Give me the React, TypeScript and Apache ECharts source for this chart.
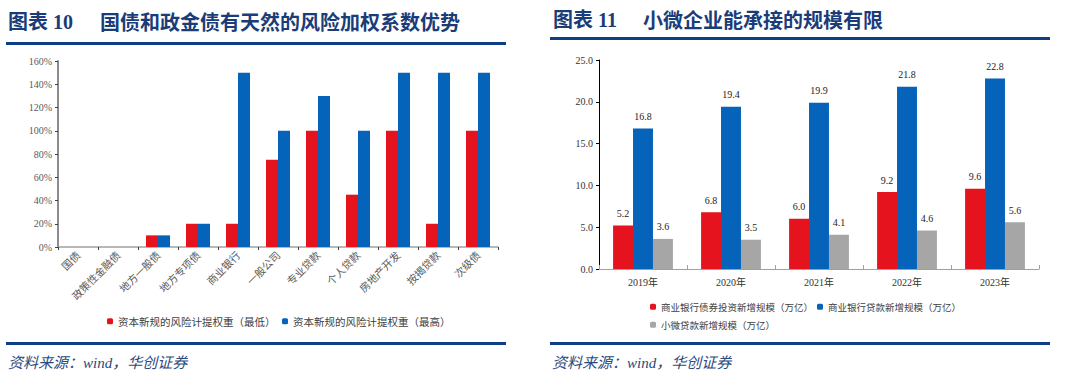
import React, { useEffect, useRef } from "react";
import * as echarts from "echarts";

const leftCategories = ["国债", "政策性金融债", "地方一般债", "地方专项债", "商业银行", "一般公司", "专业贷款", "个人贷款", "房地产开发", "按揭贷款", "次级债"];
const leftLow = [0, 0, 10, 20, 20, 75, 100, 45, 100, 20, 100];
const leftHigh = [0, 0, 10, 20, 150, 100, 130, 100, 150, 150, 150];
const leftTicks = [0, 20, 40, 60, 80, 100, 120, 140, 160];

const rightCategories = ["2019年", "2020年", "2021年", "2022年", "2023年"];
const bondInvest = [5.2, 6.8, 6.0, 9.2, 9.6];
const loanNew = [16.8, 19.4, 19.9, 21.8, 22.8];
const smallLoan = [3.6, 3.5, 4.1, 4.6, 5.6];

const leftSeriesNames = ["资本新规的风险计提权重（最低）", "资本新规的风险计提权重（最高）"];
const rightSeriesNames = ["商业银行债券投资新增规模（万亿）", "商业银行贷款新增规模（万亿）", "小微贷款新增规模（万亿）"];

const RED = "#E5131D";
const BLUE = "#0563BA";
const GREY = "#A6A6A6";
const NAVY = "#1A3C78";
const LINE = "#0E3F84";
const SERIF = "'Liberation Serif', 'Noto Sans CJK SC', serif";
const CJK = "'Noto Sans CJK SC', sans-serif";

export default function App() {
  const ref = useRef<HTMLDivElement>(null);
  useEffect(() => {
    document.body.style.margin = "0";
    const chart = echarts.init(ref.current!, null, { renderer: "svg" });
    const legendText = { color: "#404040", fontSize: 10.5, fontFamily: CJK };
    const legendTextR = { color: "#404040", fontSize: 9.5, fontFamily: CJK };
    chart.setOption({
      animation: false,
      backgroundColor: "#ffffff",
      grid: [
        { left: 58, top: 61, right: 1080 - 498, bottom: 379 - 247 },
        { left: 599, top: 60, right: 1080 - 1039, bottom: 379 - 269 },
      ],
      xAxis: [
        {
          type: "category",
          gridIndex: 0,
          data: leftCategories,
          axisLine: { lineStyle: { color: "#A0A0A0", width: 1.5 } },
          axisTick: { show: true, length: 3, lineStyle: { color: "#404040" } },
          axisLabel: { rotate: 45, fontSize: 10.5, color: "#595959", fontFamily: CJK, margin: 6, interval: 0 },
        },
        {
          type: "category",
          gridIndex: 1,
          data: rightCategories,
          axisLine: { lineStyle: { color: "#A0A0A0", width: 1 } },
          axisTick: { show: true, length: 4, inside: true, lineStyle: { color: "#A0A0A0" } },
          axisLabel: { fontSize: 10, color: "#333333", fontFamily: SERIF, margin: 8 },
        },
      ],
      yAxis: [
        {
          type: "value",
          gridIndex: 0,
          min: leftTicks[0],
          max: leftTicks[leftTicks.length - 1],
          interval: 20,
          splitLine: { show: false },
          axisLine: { show: true, lineStyle: { color: "#8C8C8C", width: 2 } },
          axisTick: { show: true, length: 3, lineStyle: { color: "#404040" } },
          axisLabel: { formatter: (v: number) => v + "%", fontSize: 10, color: "#595959", fontFamily: SERIF, margin: 6 },
        },
        {
          type: "value",
          gridIndex: 1,
          min: 0,
          max: 25,
          interval: 5,
          splitLine: { show: false },
          axisLine: { show: true, lineStyle: { color: "#000000", width: 1 } },
          axisTick: { show: true, length: 3, lineStyle: { color: "#000000" } },
          axisLabel: { formatter: (v: number) => v.toFixed(1), fontSize: 10, color: "#333333", fontFamily: SERIF, margin: 6 },
        },
      ],
      legend: [
        { left: 102, top: 311, itemWidth: 6, itemHeight: 6, data: [leftSeriesNames[0]], textStyle: legendText, itemGap: 0 },
        { left: 277, top: 311, itemWidth: 6, itemHeight: 6, data: [leftSeriesNames[1]], textStyle: legendText, itemGap: 0 },
        { left: 645, top: 297, itemWidth: 6, itemHeight: 6, data: [rightSeriesNames[0]], textStyle: legendTextR },
        { left: 812, top: 297, itemWidth: 6, itemHeight: 6, data: [rightSeriesNames[1]], textStyle: legendTextR },
        { left: 645, top: 315, itemWidth: 6, itemHeight: 6, data: [rightSeriesNames[2]], textStyle: legendTextR },
      ],
      series: [
        { name: leftSeriesNames[0], type: "bar", xAxisIndex: 0, yAxisIndex: 0, data: leftLow, itemStyle: { color: RED }, barGap: "0%", barCategoryGap: "40%" },
        { name: leftSeriesNames[1], type: "bar", xAxisIndex: 0, yAxisIndex: 0, data: leftHigh, itemStyle: { color: BLUE }, barGap: "0%", barCategoryGap: "40%" },
        ...[bondInvest, loanNew, smallLoan].map((d, i) => ({
          name: rightSeriesNames[i],
          type: "bar",
          xAxisIndex: 1,
          yAxisIndex: 1,
          data: d,
          itemStyle: { color: [RED, BLUE, GREY][i] },
          barGap: "0%",
          barCategoryGap: "32%",
          label: {
            show: true,
            position: "top",
            distance: 7,
            formatter: (p: any) => Number(p.value).toFixed(1),
            fontSize: 10,
            color: "#222222",
            fontFamily: SERIF,
          },
        })),
      ],
      graphic: [
        { type: "text", left: 8, top: 12, style: { text: "图表 10", fontSize: 20, fontWeight: "bold", fill: NAVY, fontFamily: SERIF } },
        { type: "text", left: 100, top: 11, style: { text: "国债和政金债有天然的风险加权系数优势", fontSize: 20, fontWeight: "bold", fill: NAVY, fontFamily: CJK } },
        { type: "rect", shape: { x: 6, y: 42, width: 500, height: 3 }, style: { fill: LINE } },
        { type: "text", left: 553, top: 10, style: { text: "图表 11", fontSize: 20, fontWeight: "bold", fill: NAVY, fontFamily: SERIF } },
        { type: "text", left: 643, top: 9, style: { text: "小微企业能承接的规模有限", fontSize: 20, fontWeight: "bold", fill: NAVY, fontFamily: CJK } },
        { type: "rect", shape: { x: 550, y: 37, width: 500, height: 3 }, style: { fill: LINE } },
        { type: "rect", shape: { x: 6, y: 342, width: 500, height: 3 }, style: { fill: LINE } },
        { type: "rect", shape: { x: 550, y: 342, width: 500, height: 3 }, style: { fill: LINE } },
        { type: "text", left: 8, top: 355, style: { text: "资料来源：wind，华创证券", fontSize: 15, fontStyle: "italic", fill: "#2C4A7E", fontFamily: SERIF } },
        { type: "text", left: 552, top: 355, style: { text: "资料来源：wind，华创证券", fontSize: 15, fontStyle: "italic", fill: "#2C4A7E", fontFamily: SERIF } },
      ],
    });
    return () => chart.dispose();
  }, []);
  return <div ref={ref} style={{ width: 1080, height: 379 }} />;
}
